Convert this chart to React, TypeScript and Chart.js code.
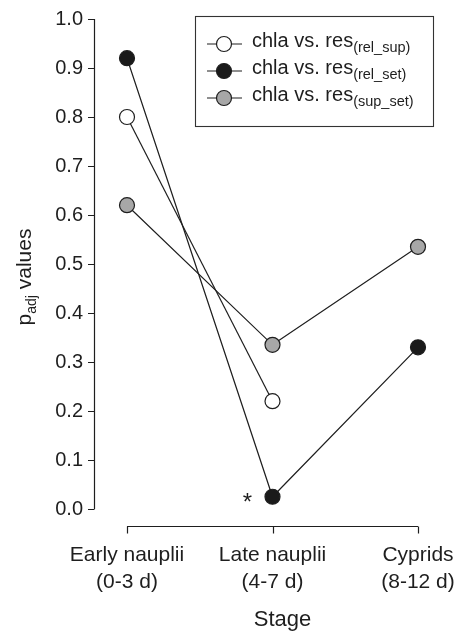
import React, { useEffect, useRef } from "react";
import { Chart, registerables } from "chart.js";

Chart.register(...registerables);

// ---------- data ----------
const categories: string[][] = [
  ["Early nauplii", "(0-3 d)"],
  ["Late nauplii", "(4-7 d)"],
  ["Cyprids", "(8-12 d)"],
];
const seriesNames = ["chla vs. res", "chla vs. res", "chla vs. res"];
const seriesSubs = ["(rel_sup)", "(rel_set)", "(sup_set)"];
const relSup: (number | null)[] = [0.8, 0.22, null];
const relSet: (number | null)[] = [0.92, 0.025, 0.33];
const supSet: (number | null)[] = [0.62, 0.335, 0.535];
const yMin = 0;
const yMax = 1;
const yStep = 0.1;
const yTitleMain = "p";
const yTitleSub = "adj";
const yTitleRest = " values";
const xTitle = "Stage";
const significanceMark = "*";
const significantSeries = 1; // relSet
const significantIndex = 1; // Late nauplii

// ---------- style ----------
const FONT = "'Liberation Sans', Arial, Helvetica, sans-serif";
const INK = "#1e1e1e";
const fills = ["#ffffff", "#1a1a1a", "#a7a7a7"];

const decorPlugin = {
  id: "decor",
  afterDraw(chart: any) {
    const { ctx, chartArea, scales } = chart;
    const x = scales.x;
    const y = scales.y;
    ctx.save();
    ctx.strokeStyle = INK;
    ctx.fillStyle = INK;
    ctx.lineWidth = 1.2;

    // y axis line + ticks
    const ax = Math.round(chartArea.left - 33) + 0.5;
    ctx.beginPath();
    ctx.moveTo(ax, y.getPixelForValue(yMin));
    ctx.lineTo(ax, y.getPixelForValue(yMax));
    y.ticks.forEach((t: any) => {
      const py = Math.round(y.getPixelForValue(t.value)) + 0.5;
      ctx.moveTo(ax - 6.5, py);
      ctx.lineTo(ax, py);
    });
    ctx.stroke();

    // x axis line + ticks (pointing down)
    const ay = Math.round(chartArea.bottom + 17) + 0.5;
    const x0 = x.getPixelForValue(0);
    const x1 = x.getPixelForValue(categories.length - 1);
    ctx.beginPath();
    ctx.moveTo(x0, ay);
    ctx.lineTo(x1, ay);
    categories.forEach((_, i) => {
      const px = Math.round(x.getPixelForValue(i)) + 0.5;
      ctx.moveTo(px, ay);
      ctx.lineTo(px, ay + 7);
    });
    ctx.stroke();

    // y title (rotated, with subscript)
    const cy = (chartArea.top + chartArea.bottom) / 2 + 13;
    ctx.save();
    ctx.translate(31, cy);
    ctx.rotate(-Math.PI / 2);
    ctx.textBaseline = "alphabetic";
    ctx.textAlign = "left";
    const big = "21px " + FONT;
    const small = "14px " + FONT;
    ctx.font = big;
    const w1 = ctx.measureText(yTitleMain).width;
    const w3 = ctx.measureText(yTitleRest).width;
    ctx.font = small;
    const w2 = ctx.measureText(yTitleSub).width;
    let sx = -(w1 + w2 + w3) / 2;
    ctx.font = big;
    ctx.fillText(yTitleMain, sx, 0);
    sx += w1;
    ctx.font = small;
    ctx.fillText(yTitleSub, sx, 5);
    sx += w2;
    ctx.font = big;
    ctx.fillText(yTitleRest, sx, 0);
    ctx.restore();

    // x title
    ctx.font = "22px " + FONT;
    ctx.textAlign = "center";
    ctx.textBaseline = "alphabetic";
    ctx.fillText(xTitle, (chartArea.left + chartArea.right) / 2 + 10, 626);

    // significance asterisk
    const sv = [relSup, relSet, supSet][significantSeries][significantIndex] as number;
    const spx = x.getPixelForValue(significantIndex);
    const spy = y.getPixelForValue(sv);
    ctx.font = "24px " + FONT;
    ctx.fillText(significanceMark, spx - 25, spy + 13);

    // legend
    const bx = 195.5, by = 16.5, bw = 238, bh = 110;
    ctx.strokeStyle = "#333333";
    ctx.lineWidth = 1.1;
    ctx.strokeRect(bx, by, bw, bh);
    const baselines = [47, 74, 101];
    seriesNames.forEach((name, i) => {
      const b = baselines[i];
      const my = b - 3;
      ctx.strokeStyle = INK;
      ctx.lineWidth = 1.2;
      ctx.beginPath();
      ctx.moveTo(207, my);
      ctx.lineTo(242, my);
      ctx.stroke();
      ctx.beginPath();
      ctx.arc(224, my, 7.5, 0, Math.PI * 2);
      ctx.fillStyle = fills[i];
      ctx.fill();
      ctx.stroke();
      ctx.fillStyle = INK;
      ctx.textAlign = "left";
      ctx.font = "20px " + FONT;
      ctx.fillText(name, 252, b);
      const nw = ctx.measureText(name).width;
      ctx.font = "14.5px " + FONT;
      ctx.fillText(seriesSubs[i], 252 + nw, b + 5);
    });

    ctx.restore();
  },
};

export default function App() {
  const ref = useRef<HTMLCanvasElement | null>(null);

  useEffect(() => {
    document.body.style.margin = "0";
    if (!ref.current) return;
    const mk = (idx: number, data: (number | null)[]) => ({
      label: seriesNames[idx] + seriesSubs[idx],
      data,
      borderColor: INK,
      borderWidth: 1.2,
      pointRadius: 7.5,
      pointHoverRadius: 7.5,
      pointBorderWidth: 1.2,
      pointBackgroundColor: fills[idx],
      pointBorderColor: INK,
      backgroundColor: fills[idx],
      fill: false,
      tension: 0,
      clip: false as const,
    });
    const chart = new Chart(ref.current, {
      type: "line",
      data: {
        labels: categories,
        datasets: [mk(0, relSup), mk(1, relSet), mk(2, supSet)],
      },
      options: {
        animation: false,
        responsive: false,
        devicePixelRatio: 1,
        layout: { padding: { left: 0, right: 37, top: 19, bottom: 0 } },
        plugins: {
          legend: { display: false },
          tooltip: { enabled: false },
          title: { display: false },
        },
        scales: {
          x: {
            type: "category",
            offset: false,
            grid: { display: false, drawTicks: false },
            border: { display: false },
            ticks: {
              color: INK,
              font: { family: FONT, size: 21, lineHeight: 1.29 },
              padding: 33,
              maxRotation: 0,
              minRotation: 0,
              autoSkip: false,
            },
            afterFit: (s: any) => {
              s.height = 123;
              s.paddingLeft = 0;
              s.paddingRight = 0;
            },
          },
          y: {
            type: "linear",
            min: yMin,
            max: yMax,
            grid: { display: false, drawTicks: false },
            border: { display: false },
            ticks: {
              stepSize: yStep,
              color: INK,
              font: { family: FONT, size: 20 },
              padding: 44,
              callback: (v: any) => Number(v).toFixed(1),
            },
            afterFit: (s: any) => {
              s.width = 127;
              s.paddingTop = 0;
              s.paddingBottom = 0;
            },
          },
        },
      },
      plugins: [decorPlugin],
    });
    return () => chart.destroy();
  }, []);

  return (
    <div style={{ width: 455, height: 632, background: "#fff" }}>
      <canvas ref={ref} width={455} height={632} style={{ display: "block" }} />
    </div>
  );
}
